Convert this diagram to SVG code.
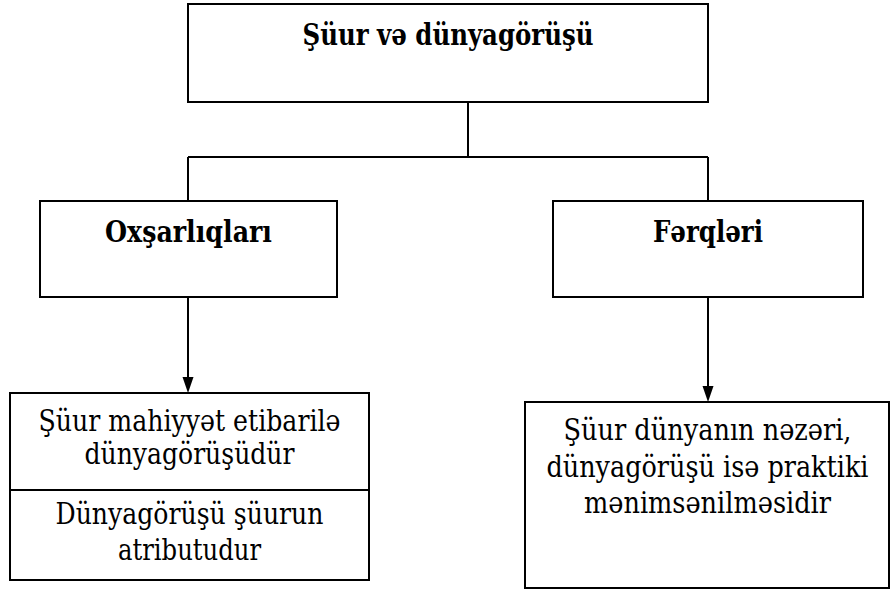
<svg xmlns="http://www.w3.org/2000/svg" width="893" height="590" viewBox="0 0 893 590">
<defs>
<path id="ahd" d="M-5.5,-16 L5.5,-16 L0,0 Z" fill="#000"/>
</defs>
<g id="connectors" fill="none" stroke="#000" stroke-width="2">
<path d="M468,102 V157"/>
<path d="M188,157 H708"/>
<path d="M188,157 V201"/>
<path d="M708,157 V201"/>
<path d="M188,297 V380"/>
<path d="M708,297 V389"/>
<use href="#ahd" x="188" y="393" stroke="none"/>
<use href="#ahd" x="708" y="402" stroke="none"/>
</g>
<g id="n-top">
<rect x="188" y="4" width="520" height="98" fill="#fff" stroke="#000" stroke-width="2"/>
<text x="448" y="45" text-anchor="middle" font-family="DejaVu Serif, Liberation Serif, serif" font-size="29" font-weight="bold" textLength="291" lengthAdjust="spacingAndGlyphs">Şüur və dünyagörüşü</text>
</g>
<g id="n-oxsar">
<rect x="40" y="201" width="297" height="96" fill="#fff" stroke="#000" stroke-width="2"/>
<text x="188.5" y="242" text-anchor="middle" font-family="DejaVu Serif, Liberation Serif, serif" font-size="29" font-weight="bold" textLength="167" lengthAdjust="spacingAndGlyphs">Oxşarlıqları</text>
</g>
<g id="n-ferq">
<rect x="553" y="201" width="310" height="96" fill="#fff" stroke="#000" stroke-width="2"/>
<text x="708" y="242" text-anchor="middle" font-family="DejaVu Serif, Liberation Serif, serif" font-size="29" font-weight="bold" textLength="110" lengthAdjust="spacingAndGlyphs">Fərqləri</text>
</g>
<g id="n-left" font-family="DejaVu Serif, Liberation Serif, serif" font-size="29" text-anchor="middle">
<rect x="10" y="393" width="359" height="187" fill="#fff" stroke="#000" stroke-width="2"/>
<line x1="10" y1="490" x2="369" y2="490" stroke="#000" stroke-width="2"/>
<text x="189.5" y="431" textLength="302" lengthAdjust="spacingAndGlyphs">Şüur mahiyyət etibarilə</text>
<text x="189.5" y="464" textLength="210" lengthAdjust="spacingAndGlyphs">dünyagörüşüdür</text>
<text x="189.5" y="524" textLength="268" lengthAdjust="spacingAndGlyphs">Dünyagörüşü şüurun</text>
<text x="189.5" y="560" textLength="143" lengthAdjust="spacingAndGlyphs">atributudur</text>
</g>
<g id="n-right" font-family="DejaVu Serif, Liberation Serif, serif" font-size="29" text-anchor="middle">
<rect x="525" y="402" width="364" height="186" fill="#fff" stroke="#000" stroke-width="2"/>
<text x="707.5" y="440" textLength="288" lengthAdjust="spacingAndGlyphs">Şüur dünyanın nəzəri,</text>
<text x="707.5" y="477" textLength="322" lengthAdjust="spacingAndGlyphs">dünyagörüşü isə praktiki</text>
<text x="707.5" y="513" textLength="247" lengthAdjust="spacingAndGlyphs">mənimsənilməsidir</text>
</g>
</svg>
